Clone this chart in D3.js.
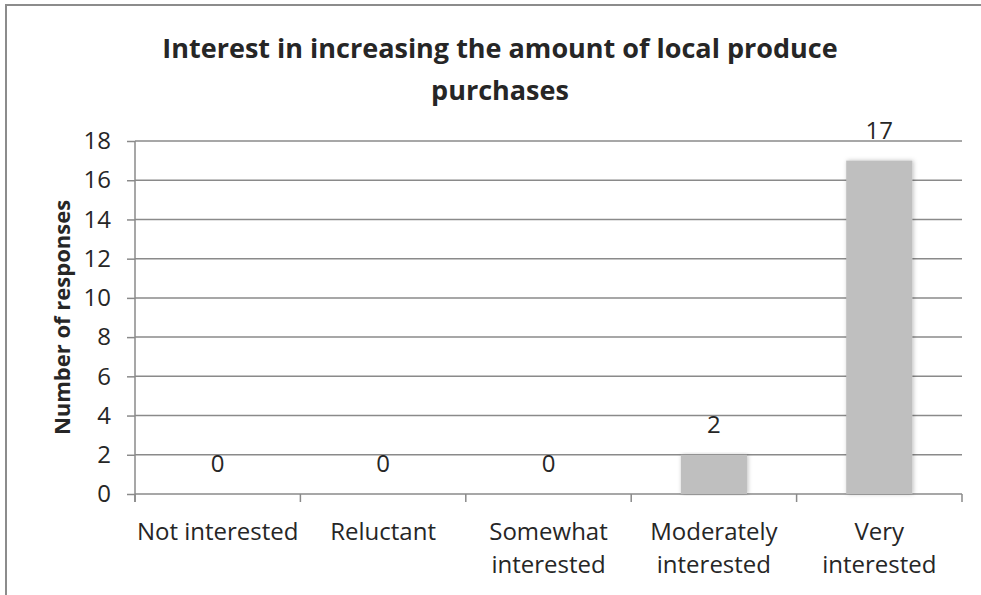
<!DOCTYPE html>
<html>
<head>
<meta charset="utf-8">
<script src="https://cdn.jsdelivr.net/npm/d3@7"></script>
<style>
  html, body { margin: 0; padding: 0; background: #fff; overflow: hidden; }
  svg { display: block; }
  text { font-family: "Open Sans", "Liberation Sans", sans-serif; fill: #262626; }
</style>
</head>
<body>
<script>
// chart data
var categories = ["Not interested", "Reluctant", "Somewhat interested", "Moderately interested", "Very interested"];
var categoryLines = [["Not interested"], ["Reluctant"], ["Somewhat", "interested"], ["Moderately", "interested"], ["Very", "interested"]];
var responses = [0, 0, 0, 2, 17];
var yTicks = [0, 2, 4, 6, 8, 10, 12, 14, 16, 18];
var titleLines = ["Interest in increasing the amount of local produce", "purchases"];
var yTitle = "Number of responses";

var width = 981, height = 595;
var margin = { top: 141, right: 19, bottom: 101, left: 135 };

var svg = d3.select("body").append("svg")
    .attr("width", width)
    .attr("height", height);

var defs = svg.append("defs");
var shadow = defs.append("filter").attr("id", "shadow")
    .attr("x", "-20%").attr("y", "-5%").attr("width", "140%").attr("height", "110%");
shadow.append("feDropShadow")
    .attr("dx", 1).attr("dy", 0).attr("stdDeviation", 2)
    .attr("flood-color", "#000").attr("flood-opacity", 0.25);

// outer border: only the left and top edges show in the reference
svg.append("path")
    .attr("d", "M6," + height + "V5H" + width)
    .attr("fill", "none")
    .attr("stroke", "#8c8c8c")
    .attr("stroke-width", 2);

var x = d3.scaleBand()
    .domain(categories)
    .range([margin.left, width - margin.right])
    .paddingInner(0.6)
    .paddingOuter(0.3);

var y = d3.scaleLinear()
    .domain([0, 18])
    .range([height - margin.bottom, margin.top]);

// gridlines
svg.append("g")
    .selectAll("line")
    .data(yTicks.slice(1))
    .enter().append("line")
    .attr("x1", margin.left)
    .attr("x2", width - margin.right)
    .attr("y1", function (d) { return y(d); })
    .attr("y2", function (d) { return y(d); })
    .attr("stroke", "#8a8a8a")
    .attr("stroke-width", 1.5);

// y axis
var yAxis = svg.append("g")
    .attr("transform", "translate(" + margin.left + ",0)")
    .call(d3.axisLeft(y).tickValues(yTicks).tickSize(8).tickPadding(16));
yAxis.select(".domain").remove();
yAxis.selectAll(".tick line").attr("stroke", "#8a8a8a").attr("stroke-width", 1.5);
yAxis.selectAll(".tick text")
    .style("font-size", "24px")
    .style("font-family", "'Open Sans', sans-serif")
    .attr("fill", "#262626");
yAxis.append("line")
    .attr("x1", 0).attr("x2", 0)
    .attr("y1", y(18)).attr("y2", y(0) + 8)
    .attr("stroke", "#8a8a8a").attr("stroke-width", 1.5);

// x axis (category boundaries as ticks)
var step = x.step();
var bounds = d3.range(categories.length + 1);
var xAxis = svg.append("g");
xAxis.append("line")
    .attr("x1", margin.left).attr("x2", width - margin.right)
    .attr("y1", y(0)).attr("y2", y(0))
    .attr("stroke", "#8a8a8a").attr("stroke-width", 1.5);
xAxis.selectAll("line.tk")
    .data(bounds)
    .enter().append("line")
    .attr("class", "tk")
    .attr("x1", function (i) { return margin.left + i * step; })
    .attr("x2", function (i) { return margin.left + i * step; })
    .attr("y1", y(0)).attr("y2", y(0) + 8)
    .attr("stroke", "#8a8a8a").attr("stroke-width", 1.5);

var catLabel = xAxis.selectAll("text.cat")
    .data(categories)
    .enter().append("text")
    .attr("class", "cat")
    .attr("text-anchor", "middle")
    .style("font-size", "24px");
catLabel.each(function (d, i) {
    var t = d3.select(this);
    categoryLines[i].forEach(function (ln, j) {
        t.append("tspan")
            .attr("x", x(d) + x.bandwidth() / 2)
            .attr("y", y(0) + 46 + j * 33)
            .text(ln);
    });
});

// bars
svg.append("g")
    .selectAll("rect")
    .data(responses)
    .enter().append("rect")
    .filter(function (d) { return d > 0; })
    .attr("x", function (d) { return x(categories[responses.indexOf(d)]); })
    .attr("y", function (d) { return y(d); })
    .attr("width", x.bandwidth())
    .attr("height", function (d) { return y(0) - y(d); })
    .attr("fill", "#bfbfbf")
    .attr("filter", "url(#shadow)");

// data labels
svg.append("g")
    .selectAll("text")
    .data(responses)
    .enter().append("text")
    .attr("x", function (d, i) { return x(categories[i]) + x.bandwidth() / 2; })
    .attr("y", function (d) { return y(d) - 22; })
    .attr("text-anchor", "middle")
    .style("font-size", "24px")
    .text(function (d) { return d; });

// title
svg.append("g")
    .selectAll("text")
    .data(titleLines)
    .enter().append("text")
    .attr("x", 500)
    .attr("y", function (d, i) { return 58 + i * 42; })
    .attr("text-anchor", "middle")
    .style("font-size", "27px")
    .style("font-weight", "bold")
    .attr("fill", "#000")
    .text(function (d) { return d; });

// y axis title
svg.append("text")
    .attr("transform", "translate(70," + ((y(0) + y(18)) / 2) + ") rotate(-90)")
    .attr("text-anchor", "middle")
    .style("font-size", "22px")
    .style("font-weight", "bold")
    .attr("fill", "#000")
    .text(yTitle);
</script>
</body>
</html>
